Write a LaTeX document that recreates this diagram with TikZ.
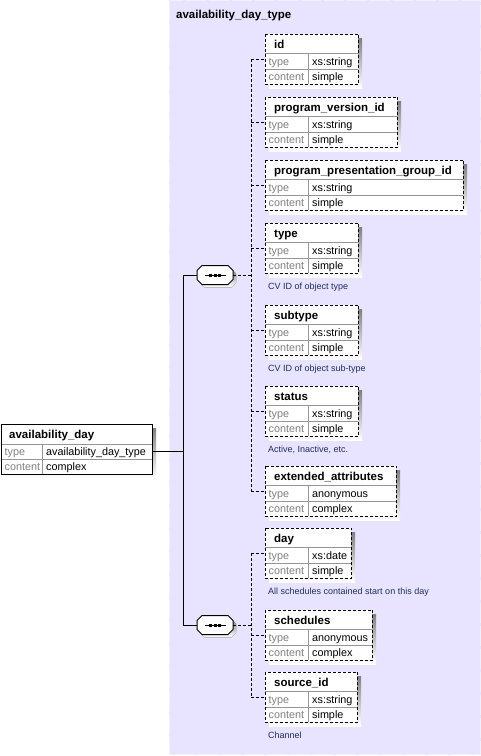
\documentclass[tikz,border=0pt]{standalone}
\usepackage{fontspec}
\setmainfont{Liberation Sans}
\definecolor{panel}{RGB}{232,228,255}
\definecolor{panelborder}{RGB}{242,240,255}
\definecolor{shade}{RGB}{192,192,192}
\definecolor{rowline}{RGB}{150,150,150}
\definecolor{lbl}{RGB}{128,128,128}
\definecolor{capc}{RGB}{30,45,95}
\tikzset{
  conn/.style={black, line width=1pt},
  dconn/.style={black, line width=1pt, dash pattern=on 3pt off 2pt},
  boxfill/.style={fill=white, draw=none, inner sep=0pt, rectangle, anchor=north west},
  ttl/.style={font=\fontsize{11.5}{13}\selectfont\bfseries, anchor=base west, inner sep=0pt},
  lab/.style={font=\fontsize{10.8}{12}\selectfont, text=lbl, anchor=base west, inner sep=0pt},
  val/.style={font=\fontsize{10.8}{12}\selectfont, anchor=base west, inner sep=0pt},
  captext/.style={font=\fontsize{9}{11}\selectfont, text=capc, anchor=base west, inner sep=0pt},
  rowsep/.style={rowline, line width=1pt},
}
% #1 name, #2 title, #3 top, #4 right, #5 type, #6 content
\newcommand\elem[6]{%
  \fill[shade] (269,#3+4) rectangle (#4+4,#3+54);
  \node[boxfill, minimum width=#4-265, minimum height=50] (#1) at (265,#3) {};
  \draw[rowsep] (265,#3+19.5) -- (#4,#3+19.5);
  \draw[rowsep] (265,#3+35) -- (#4,#3+35);
  \draw[rowsep] (308.5,#3+19.5) -- (308.5,#3+50);
  \draw[dconn] (#1.north west) rectangle (#1.south east);
  \node[ttl] (#1-t) at (274,#3+14.5) {#2};
  \node[lab] (#1-l1) at (268.5,#3+31) {type};
  \node[lab] (#1-l2) at (268.5,#3+46) {content};
  \node[val] (#1-v1) at (312,#3+31) {#5};
  \node[val] (#1-v2) at (312,#3+46) {#6};
  \coordinate (#1c) at (251,#3+25);
  \draw[dconn] (#1c) -- (#1c -| #1.west);
}
% #1 name, #2 cx, #3 cy
\newcommand\seqsym[3]{%
  \fill[shade] (#2-15,#3-1.5) -- (#2-10,#3-6.5) -- (#2+16,#3-6.5) -- (#2+21,#3-1.5) -- (#2+21,#3+7.5) -- (#2+16,#3+12.5) -- (#2-10,#3+12.5) -- (#2-15,#3+7.5) -- cycle;
  \draw[fill=white, line width=1pt] (#2-18,#3-4.5) -- (#2-13,#3-9.5) -- (#2+13,#3-9.5) -- (#2+18,#3-4.5) -- (#2+18,#3+4.5) -- (#2+13,#3+9.5) -- (#2-13,#3+9.5) -- (#2-18,#3+4.5) -- cycle;
  \node[rectangle, inner sep=0pt, minimum width=36, minimum height=19] (#1) at (#2,#3) {};
  \draw[line width=1pt] (#2-10.5,#3) -- (#2+10.5,#3);
  \fill (#2-6,#3-1.5) rectangle (#2-3,#3+1.5);
  \fill (#2-1.5,#3-1.5) rectangle (#2+1.5,#3+1.5);
  \fill (#2+3,#3-1.5) rectangle (#2+6,#3+1.5);
}
\begin{document}
\begin{tikzpicture}[x=1pt, y=-1pt]
\useasboundingbox (0,0) rectangle (481,756);
% panel
\fill[panel] (169,0) rectangle (480.5,755);
\draw[panelborder, dash pattern=on 20pt off 3pt] (169.5,0.5) rectangle (480,754.5);
\node[ttl] (ptitle) at (176,18.5) {availability\_day\_type};

% left element
\fill[shade] (5,428) rectangle (156,478);
\node[boxfill, minimum width=151, minimum height=50] (avail) at (1.5,424) {};
\draw[rowsep] (1.5,444) -- (152.5,444);
\draw[rowsep] (1.5,459.5) -- (152.5,459.5);
\draw[rowsep] (42.5,444) -- (42.5,474);
\draw[conn] (avail.north west) rectangle (avail.south east);
\node[ttl] (avail-t) at (9,438.5) {availability\_day};
\node[lab] (avail-l1) at (4.5,455.5) {type};
\node[lab] (avail-l2) at (4.5,470.5) {content};
\node[val] (avail-v1) at (46,455.5) {availability\_day\_type};
\node[val] (avail-v2) at (46,470.5) {complex};

% sequence symbols
\seqsym{seqa}{215}{275}
\seqsym{seqb}{215}{625}

% children
\elem{id}{id}{34}{358}{xs:string}{simple}
\elem{pvid}{program\_version\_id}{97}{397}{xs:string}{simple}
\elem{ppgid}{program\_presentation\_group\_id}{160}{463}{xs:string}{simple}
\elem{type}{type}{223}{358}{xs:string}{simple}
\elem{subtype}{subtype}{305}{358}{xs:string}{simple}
\elem{status}{status}{386}{358}{xs:string}{simple}
\elem{ext}{extended\_attributes}{466}{396}{anonymous}{complex}
\elem{day}{day}{528}{351}{xs:date}{simple}
\elem{sched}{schedules}{610}{372}{anonymous}{complex}
\elem{src}{source\_id}{672}{357}{xs:string}{simple}

% captions
\node[captext] (type-cap) at (268,289) {CV ID of object type};
\node[captext] (subtype-cap) at (268,371) {CV ID of object sub-type};
\node[captext] (status-cap) at (268,452) {Active, Inactive, etc.};
\node[captext] (day-cap) at (268,594) {All schedules contained start on this day};
\node[captext] (src-cap) at (268,738) {Channel};

% solid connectors
\coordinate (j) at (183,451);
\coordinate (ja) at (183,275);
\coordinate (jb) at (183,625);
\draw[conn] (j -| avail.east) -- (j);
\draw[conn] (ja) -- (jb);
\draw[conn] (ja) -- (seqa.west);
\draw[conn] (jb) -- (seqb.west);

% dashed group connectors
\coordinate (ga) at (251,275);
\coordinate (gb) at (251,625);
\draw[dconn] (seqa.east) -- (ga);
\draw[dconn] (seqb.east) -- (gb);
\draw[dconn] (idc) -- (extc);
\draw[dconn] (dayc) -- (srcc);
\end{tikzpicture}
\end{document}
